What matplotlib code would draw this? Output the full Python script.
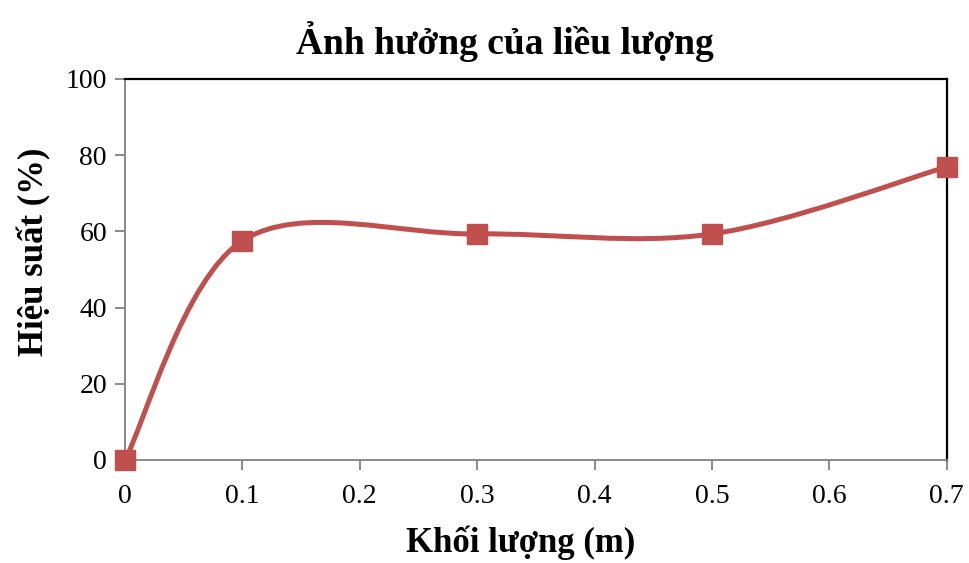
import matplotlib.pyplot as plt
from matplotlib.path import Path
from matplotlib.patches import PathPatch

plt.rcParams['font.family'] = ['Liberation Serif', 'DejaVu Serif']

# data
khoi_luong = [0, 0.1, 0.3, 0.5, 0.7]
hieu_suat = [0, 57.5, 59.3, 59.3, 76.9]
color = '#C0504D'

fig, ax = plt.subplots(figsize=(9.69, 5.63), dpi=100)
fig.subplots_adjust(left=0.129, right=0.977, top=0.86, bottom=0.183)

# smooth curve like Excel (cardinal bezier through the points)
pts = list(zip(khoi_luong, hieu_suat))
n = len(pts)
verts = [pts[0]]
codes = [Path.MOVETO]
for i in range(n - 1):
    p0 = pts[i - 1] if i > 0 else pts[i]
    p1 = pts[i]
    p2 = pts[i + 1]
    p3 = pts[i + 2] if i + 2 < n else pts[i + 1]
    c1 = (p1[0] + (p2[0] - p0[0]) / 6, p1[1] + (p2[1] - p0[1]) / 6)
    c2 = (p2[0] - (p3[0] - p1[0]) / 6, p2[1] - (p3[1] - p1[1]) / 6)
    verts += [c1, c2, p2]
    codes += [Path.CURVE4] * 3
ax.add_patch(PathPatch(Path(verts, codes), facecolor='none', edgecolor=color,
                       lw=3.6, capstyle='round', zorder=3))
ax.plot(khoi_luong, hieu_suat, linestyle='none', marker='s', markersize=14,
        color=color, clip_on=False, zorder=4)

ax.set_xlim(0, 0.7)
ax.set_ylim(0, 100)
ax.set_xticks([0, 0.1, 0.2, 0.3, 0.4, 0.5, 0.6, 0.7])
ax.set_xticklabels(['0', '0.1', '0.2', '0.3', '0.4', '0.5', '0.6', '0.7'])
ax.set_yticks([0, 20, 40, 60, 80, 100])
ax.tick_params(axis='both', labelsize=20, color='#808080', length=7, width=1.3)
ax.tick_params(axis='x', pad=10)
ax.tick_params(axis='y', pad=6)

for side in ['left', 'bottom']:
    ax.spines[side].set_color('#808080')
    ax.spines[side].set_linewidth(1.3)
for side in ['top', 'right']:
    ax.spines[side].set_color('black')
    ax.spines[side].set_linewidth(1.6)

ax.set_title('Ảnh hưởng của liều lượng', fontsize=27, fontweight='bold', pad=18, x=0.462)
ax.set_xlabel('Khối lượng (m)', fontsize=25, fontweight='bold', labelpad=12, x=0.482)
ax.set_ylabel('Hiệu suất (%)', fontsize=25, fontweight='bold', labelpad=10, y=0.546)

fig.savefig('out.png', dpi=100)
